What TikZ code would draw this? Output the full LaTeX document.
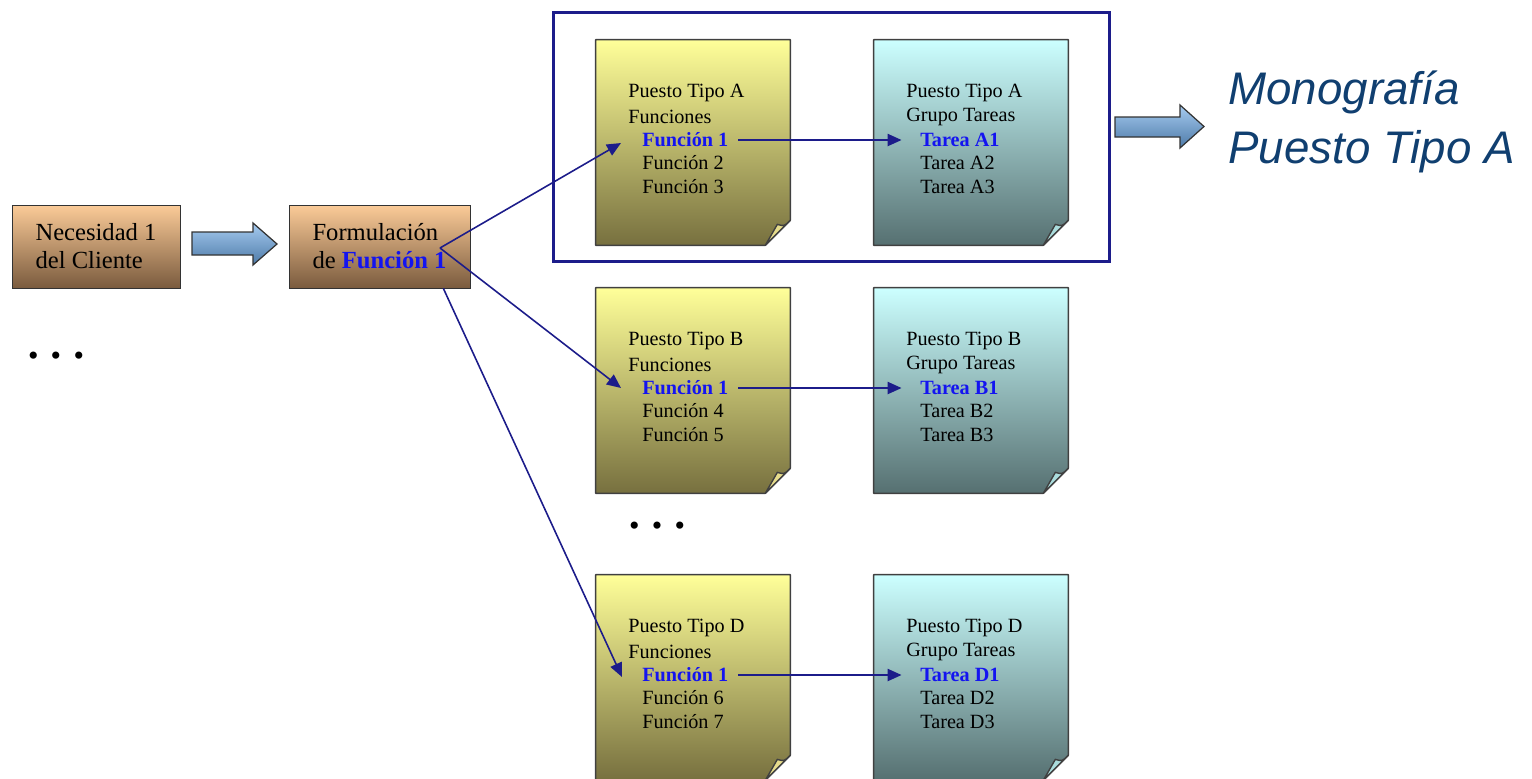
\documentclass[tikz,border=0pt]{standalone}
\usepackage{fontspec}
\setmainfont{Liberation Serif}
\newfontfamily\arialfont{Liberation Sans}
\usetikzlibrary{arrows.meta,calc}
\definecolor{peach}{HTML}{FBCB98}
\definecolor{umber}{HTML}{7A5B3E}
\definecolor{lemon}{HTML}{FFFF99}
\definecolor{moss}{HTML}{77703F}
\definecolor{ice}{HTML}{CCFFFF}
\definecolor{slate}{HTML}{567071}
\definecolor{yflap}{HTML}{E6DC8C}
\definecolor{cflap}{HTML}{AADCDC}
\definecolor{skyb}{HTML}{A6CBF0}
\definecolor{steel}{HTML}{4D7AA8}
\definecolor{navy}{HTML}{1C1C8A}
\definecolor{fblue}{HTML}{1414F0}
\definecolor{monoblue}{HTML}{103F70}

\begin{document}
\begin{tikzpicture}[x=0.02cm,y=-0.02cm,
  box/.style={draw=black!80,top color=peach,bottom color=umber,minimum width=3.36cm,minimum height=1.66cm,align=left,font=\fontsize{14}{15.9}\selectfont},
  note/.style={minimum width=3.88cm,minimum height=4.1cm,inner sep=0},
  puesto/.style={note,top color=lemon,bottom color=moss},
  grupo/.style={note,top color=ice,bottom color=slate},
  notebd/.style={draw=black!75,line width=0.8pt,line join=round},
  line/.style={anchor=west,inner sep=0,font=\fontsize{11.5}{13.3}\selectfont},
  key/.style={line,text=fblue,font=\fontsize{11.5}{13.3}\selectfont\bfseries},
  link/.style={-{Triangle[length=8pt,width=7pt]},draw=navy,line width=0.9pt},
  across/.style={link,shorten <=5.5pt,shorten >=10.5pt},
  bigarrow/.style={draw=black!80,line width=0.7pt,top color=skyb,bottom color=steel},
  frame/.style={draw=navy,line width=1.7pt,minimum width=11.14cm,minimum height=5cm},
  dots/.style={inner sep=0,font=\fontsize{17}{17}\selectfont},
  mono/.style={anchor=base west,inner sep=0,text=monoblue,font=\arialfont\itshape\fontsize{26}{30}\selectfont}]
\useasboundingbox (0,0) rectangle (1532,778);

% client need and its formulation
\node[box] (need) at (96,246.5) {Necesidad 1\\del Cliente};
\node[box,minimum width=3.62cm] (form) at (379.5,246.5) {Formulación\\de \textcolor{fblue}{\bfseries Función 1}};
\path[bigarrow] (192,232) -- (253,232) -- (253,223) -- (277,244) -- (253,265) -- (253,255) -- (192,255) -- cycle;
\node[dots] (more1) at (56,359) {\textbullet\hspace{7pt}\textbullet\hspace{7pt}\textbullet};
\node[dots] (more2) at (657,529) {\textbullet\hspace{7pt}\textbullet\hspace{7pt}\textbullet};

% one row of notes per job type
\foreach \tipo/\yy/\fb/\fc in {A/40/2/3,B/288/4/5,D/575/6/7}{
  \node[puesto] (p\tipo) at (693,\yy+102.5) {};
  \node[grupo] (g\tipo) at (971,\yy+102.5) {};
  \foreach \n/\fl in {p\tipo/yflap,g\tipo/cflap}{
    \fill[white] ($(\n.south east)+(0,-25)$) -- (\n.south east) -- ($(\n.south east)+(-25,0)$) -- cycle;
    \draw[notebd] (\n.north west) -- (\n.north east) -- ($(\n.south east)+(0,-25)$) -- ($(\n.south east)+(-25,0)$) -- (\n.south west) -- cycle;
    \draw[notebd,fill=\fl] ($(\n.south east)+(0,-25)$) .. controls ($(\n.south east)+(-6,-19)$) .. ($(\n.south east)+(-13,-21)$) -- ($(\n.south east)+(-25,0)$) -- cycle;
  }
  \node[line] at (628,\yy+53) {Puesto Tipo \tipo};
  \node[line] at (628,\yy+77) {Funciones};
  \node[key] (f\tipo) at (642,\yy+100) {Función 1};
  \node[line] at (642,\yy+123) {Función \fb};
  \node[line] at (642,\yy+147) {Función \fc};
  \node[line] at (906,\yy+53) {Puesto Tipo \tipo};
  \node[line] at (906,\yy+77) {Grupo Tareas};
  \node[key] (t\tipo) at (920,\yy+100) {Tarea \tipo1};
  \node[line] at (920,\yy+123) {Tarea \tipo2};
  \node[line] at (920,\yy+147) {Tarea \tipo3};
  \draw[across] (f\tipo.east) -- (t\tipo.west);
}

% function 1 goes to every job type
\coordinate (fsrc) at (440,248);
\coordinate (fbot) at ($(form.south east)+(-27,0)$);
\draw[link] (fsrc) -- ($(fA.west)+(-21,3)$);
\draw[link] (fsrc) -- ($(fB.west)+(-21,0)$);
\draw[link] (fbot) -- ($(fD.west)+(-20,2)$);

% job type A grouped into its monograph
\node[frame] (grp) at (831.5,137) {};
\path[bigarrow] (1115,117) -- (1180,117) -- (1180,105) -- (1204,126.5) -- (1180,148) -- (1180,137) -- (1115,137) -- cycle;
\node[mono] (mono1) at (1228,104) {Monografía};
\node[mono] (mono2) at (1228,163) {Puesto Tipo A};
\end{tikzpicture}
\end{document}
